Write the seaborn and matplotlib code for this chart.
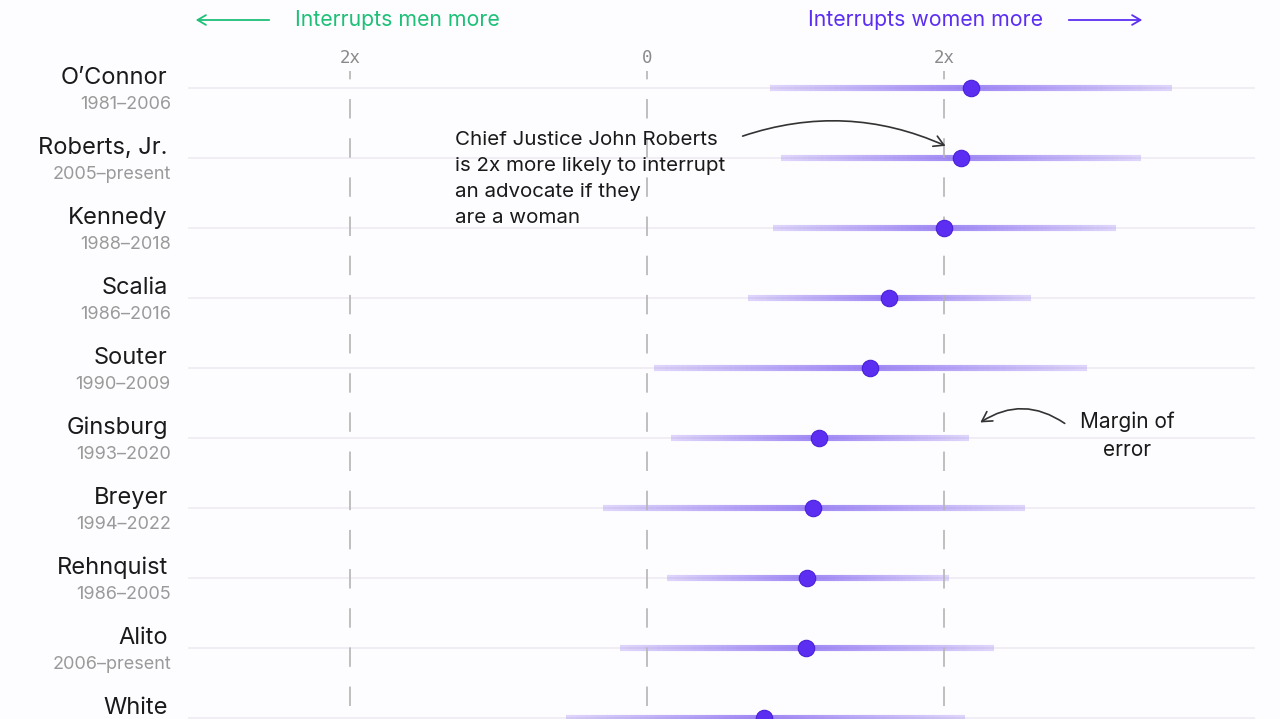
import numpy as np
import pandas as pd
import matplotlib
matplotlib.use("Agg")
import matplotlib.pyplot as plt
from matplotlib.collections import LineCollection
from matplotlib.colors import to_rgb
import seaborn as sns

# ---------------- data ----------------
justices = ["O\u2019Connor", "Roberts, Jr.", "Kennedy", "Scalia", "Souter",
            "Ginsburg", "Breyer", "Rehnquist", "Alito", "White"]
terms = ["1981\u20132006", "2005\u2013present", "1988\u20132018", "1986\u20132016",
         "1990\u20132009", "1993\u20132020", "1994\u20132022", "1986\u20132005",
         "2006\u2013present", ""]
# log2 ratio (1 = 2x more likely to interrupt women, -1 = 2x men)
estimate = [1.09, 1.057, 1.00, 0.815, 0.751, 0.579, 0.559, 0.539, 0.535, 0.394]
ci_low = [0.414, 0.451, 0.424, 0.340, 0.024, 0.081, -0.148, 0.067, -0.091, -0.273]
ci_high = [1.768, 1.663, 1.579, 1.293, 1.481, 1.084, 1.273, 1.017, 1.168, 1.071]
tick_values = [-1, 0, 1]
tick_labels = ["2x", "0", "2x"]

df = pd.DataFrame({"justice": justices, "term": terms, "est": estimate,
                   "lo": ci_low, "hi": ci_high})
df["row"] = np.arange(len(df))

# ---------------- style ----------------
sns.set_theme(style="white")
plt.rcParams["font.family"] = ["Inter", "DejaVu Sans"]
plt.rcParams["lines.scale_dashes"] = False

BG = "#fdfcfe"
PURPLE = "#5b2ef2"
LINE = "#6f4cf0"
GREEN = "#1ec078"
TEXT = "#1a1a1a"
GRAY = "#9a9a9a"

fig = plt.figure(figsize=(12.8, 7.19), dpi=100, facecolor=BG)
W, H = 1280, 719
ax_left, ax_right, ax_top = 188, 1255, 71
ax = fig.add_axes([ax_left / W, 0, (ax_right - ax_left) / W, 1 - ax_top / H])
ax.set_facecolor(BG)

ax.set_xlim((ax_left - 647) / 297, (ax_right - 647) / 297)
ax.set_ylim((H - 88) / 70, (ax_top - 88) / 70)

# horizontal row gridlines
ax.set_yticks(df["row"])
ax.set_yticklabels([])
ax.yaxis.grid(True, color="#efecf3", linewidth=1.3)
ax.tick_params(axis="y", length=0)

# gradient confidence-interval lines
rgb = to_rgb(LINE)
n = 40
for _, r in df.iterrows():
    for end in (r["lo"], r["hi"]):
        t = np.linspace(0, 1, n + 1)
        xs = r["est"] + (end - r["est"]) * t
        segs = [[(xs[i], r["row"]), (xs[i + 1], r["row"])] for i in range(n)]
        tm = (t[:-1] + t[1:]) / 2
        alphas = 0.66 - 0.45 * tm
        cols = [(rgb[0], rgb[1], rgb[2], a) for a in alphas]
        lc = LineCollection(segs, colors=cols, linewidths=4.4,
                            capstyle="butt", zorder=2)
        ax.add_collection(lc)
    # small rounded caps at the ends
    ax.plot([r["lo"], r["lo"]], [r["row"], r["row"]], color=LINE, alpha=0.2,
            lw=4.4, solid_capstyle="round", zorder=2)
    ax.plot([r["hi"], r["hi"]], [r["row"], r["row"]], color=LINE, alpha=0.2,
            lw=4.4, solid_capstyle="round", zorder=2)

# dashed reference lines
y_top, y_bot = ax.get_ylim()[1], ax.get_ylim()[0]
for xv in tick_values:
    ax.plot([xv, xv], [y_top, y_bot], color="#b5b5b5", lw=1.2,
            linestyle=(8, (14, 14.2)), zorder=3)

# points
sns.scatterplot(data=df, x="est", y="row", ax=ax, s=140, color=PURPLE,
                edgecolor="#4a20d8", linewidth=0.8, zorder=4, legend=False,
                clip_on=False)

# x ticks on top
ax.xaxis.tick_top()
ax.set_xticks(tick_values)
ax.set_xticklabels(tick_labels, family="DejaVu Sans Mono", fontsize=12.5,
                   color="#8a8a8a")
ax.tick_params(axis="x", length=0, pad=3)
ax.set_xlabel("")
ax.set_ylabel("")
for s in ax.spines.values():
    s.set_visible(False)

# row labels
ytr = ax.get_yaxis_transform()
for _, r in df.iterrows():
    ax.text(-0.019, r["row"] - 0.145, r["justice"], transform=ytr, ha="right",
            va="center", fontsize=17, color=TEXT, clip_on=False)
    if r["term"]:
        ax.text(-0.016, r["row"] + 0.23, r["term"], transform=ytr, ha="right",
                va="center", fontsize=13, color=GRAY, clip_on=False)

# header
fig.text(295 / W, 1 - 20 / H, "Interrupts men more", color=GREEN,
         fontsize=15.3, ha="left", va="center")
fig.text(808 / W, 1 - 20 / H, "Interrupts women more", color=PURPLE,
         fontsize=15.3, ha="left", va="center")
fig.add_artist(matplotlib.patches.FancyArrowPatch(
    (272 / W, 1 - 20 / H), (193 / W, 1 - 20 / H), transform=fig.transFigure,
    arrowstyle="->,head_length=6,head_width=3.5", color=GREEN, lw=1.3))
fig.add_artist(matplotlib.patches.FancyArrowPatch(
    (1066 / W, 1 - 20 / H), (1145 / W, 1 - 20 / H), transform=fig.transFigure,
    arrowstyle="->,head_length=6,head_width=3.5", color=PURPLE, lw=1.3))

# annotations
fig.text(455 / W, 1 - 131 / H,
         "Chief Justice John Roberts\nis 2x more likely to interrupt\nan advocate if they\nare a woman",
         fontsize=14.8, color=TEXT, ha="left", va="top", linespacing=1.56)
fig.add_artist(matplotlib.patches.FancyArrowPatch(
    (740 / W, 1 - 137 / H), (948 / W, 1 - 147 / H), transform=fig.transFigure,
    connectionstyle="arc3,rad=-0.2",
    arrowstyle="->,head_length=7,head_width=4", color="#333333", lw=1.2))

fig.text(1127 / W, 1 - 436 / H, "Margin of\nerror", fontsize=15, color=TEXT,
         ha="center", va="center", linespacing=1.5)
fig.add_artist(matplotlib.patches.FancyArrowPatch(
    (1067 / W, 1 - 425 / H), (978 / W, 1 - 424 / H), transform=fig.transFigure,
    connectionstyle="arc3,rad=0.35",
    arrowstyle="->,head_length=7,head_width=4", color="#333333", lw=1.2))

fig.savefig("out.png", dpi=100, facecolor=BG)
